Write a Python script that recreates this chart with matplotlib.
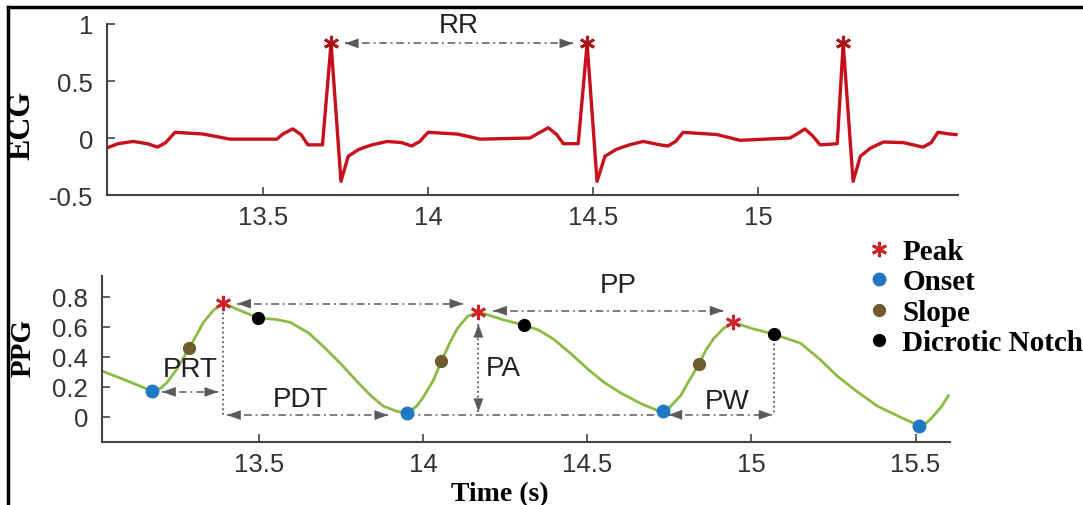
import matplotlib
matplotlib.use("Agg")
import matplotlib.pyplot as plt
from matplotlib.lines import Line2D

# ECG trace (time in s, amplitude)
ecg_t = [13.006, 13.06, 13.106, 13.15, 13.18, 13.205, 13.233, 13.318, 13.40, 13.542, 13.56,
         13.59, 13.615, 13.636, 13.68, 13.706, 13.736, 13.758, 13.79, 13.83, 13.876, 13.92, 13.95, 13.975, 14.0,
         14.088, 14.158, 14.309, 14.33, 14.364, 14.39, 14.41, 14.455, 14.482, 14.512, 14.536,
         14.57, 14.61, 14.652, 14.703, 14.727, 14.75, 14.773, 14.876, 14.945, 15.097, 15.118, 15.142, 15.165, 15.188,
         15.24, 15.258, 15.288, 15.31, 15.34, 15.38, 15.44, 15.5, 15.525, 15.545, 15.58, 15.60]
ecg_v = [-0.11, -0.05, -0.03, -0.05, -0.08, -0.04, 0.05, 0.035, -0.01, -0.01, 0.035,
         0.08, 0.03, -0.06, -0.06, 0.83, -0.38, -0.16, -0.1, -0.06, -0.03, -0.04, -0.07, -0.03, 0.05,
         0.035, -0.01, 0.0, 0.035, 0.09, 0.03, -0.05, -0.05, 0.83, -0.38, -0.16,
         -0.1, -0.06, -0.03, -0.06, -0.07, -0.03, 0.05, 0.03, -0.02, 0.0, 0.035, 0.08, 0.02, -0.06,
         -0.05, 0.83, -0.38, -0.16, -0.09, -0.035, -0.04, -0.08, -0.04, 0.05, 0.035, 0.03]
ecg_peak_t = [13.706, 14.482, 15.258]
ecg_peak_v = [0.83, 0.83, 0.83]

# PPG trace
ppg_t = [13.021, 13.085, 13.13, 13.174, 13.20, 13.22, 13.25, 13.287, 13.31, 13.33,
         13.36, 13.39, 13.43, 13.497, 13.55, 13.595, 13.65, 13.695, 13.75, 13.80,
         13.84, 13.878, 13.92, 13.951, 13.98, 14.0, 14.03, 14.055, 14.08, 14.104,
         14.135, 14.168, 14.24, 14.308, 14.35, 14.396, 14.45, 14.5, 14.55, 14.60,
         14.66, 14.72, 14.75, 14.784, 14.81, 14.84, 14.86, 14.884, 14.915, 14.945,
         15.00, 15.07, 15.15, 15.21, 15.262, 15.32, 15.384, 15.45, 15.51, 15.535,
         15.555, 15.58, 15.60]
ppg_v = [0.305, 0.25, 0.21, 0.17, 0.19, 0.23, 0.32, 0.46, 0.55, 0.63,
         0.71, 0.76, 0.72, 0.66, 0.65, 0.63, 0.56, 0.47, 0.35, 0.23,
         0.14, 0.07, 0.035, 0.025, 0.07, 0.13, 0.24, 0.37, 0.49, 0.59,
         0.67, 0.70, 0.65, 0.61, 0.58, 0.52, 0.42, 0.32, 0.23, 0.16,
         0.09, 0.035, 0.06, 0.14, 0.24, 0.35, 0.44, 0.52, 0.59, 0.63,
         0.59, 0.55, 0.49, 0.38, 0.27, 0.17, 0.07, 0.0, -0.06, -0.04,
         0.005, 0.07, 0.14]

peak_t = [13.39, 14.168, 14.945]
peak_v = [0.76, 0.70, 0.63]
onset_t = [13.174, 13.951, 14.73, 15.51]
onset_v = [0.17, 0.025, 0.035, -0.06]
slope_t = [13.287, 14.055, 14.84]
slope_v = [0.46, 0.37, 0.35]
notch_t = [13.497, 14.308, 15.07]
notch_v = [0.66, 0.61, 0.55]

ecg_xticks = [13.5, 14, 14.5, 15]
ecg_yticks = [-0.5, 0, 0.5, 1]
ppg_xticks = [13.5, 14, 14.5, 15, 15.5]
ppg_yticks = [0, 0.2, 0.4, 0.6, 0.8]

gray = "#5a5a5a"
dashdot = (0, (5, 2.5, 1.2, 2.5))
star = (6, 2, 0)
tick_font = dict(family="Liberation Sans", size=18.5)
ann_font = dict(family="Liberation Sans", size=20, color="#222222")
lab_font = dict(family="Liberation Serif", weight="bold")

fig = plt.figure(figsize=(10.83, 5.06), dpi=100)
ax1 = fig.add_axes([0.0988, 0.6126, 0.7858, 0.338])
ax2 = fig.add_axes([0.0942, 0.1245, 0.783, 0.328])


def style(ax, xt, yt):
    for s in ["top", "right"]:
        ax.spines[s].set_visible(False)
    for s in ["left", "bottom"]:
        ax.spines[s].set_color("#444444")
        ax.spines[s].set_linewidth(1.5)
    ax.set_xticks(xt)
    ax.set_xticklabels([("%g" % v) for v in xt], fontdict=tick_font, color="#333333")
    ax.set_yticks(yt)
    ax.set_yticklabels([("%g" % v) for v in yt], fontdict=tick_font, color="#333333")
    ax.tick_params(direction="in", length=6, width=1.2, color="#444444")
    ax.tick_params(axis="x", pad=7)
    ax.tick_params(axis="y", pad=10)


def head(ax, x, y, dx, dy):
    # a filled arrow head whose tip sits at (x, y); dx, dy point back along the shaft
    ax.annotate("", xy=(x, y), xytext=(dx, dy), textcoords="offset points",
                arrowprops=dict(arrowstyle="-|>,head_length=0.9,head_width=0.32",
                                color=gray, lw=0, mutation_scale=11,
                                shrinkA=0, shrinkB=0))


def harrow(ax, x0, x1, y, ls=dashdot, heads=True):
    ax.plot([x0, x1], [y, y], ls=ls, color=gray, lw=1.1)
    if heads:
        head(ax, x0, y, 10, 0)
        head(ax, x1, y, -10, 0)


# ECG
ax1.plot(ecg_t, ecg_v, color="#c8101c", lw=2.4, solid_joinstyle="round")
ax1.plot(ecg_peak_t, ecg_peak_v, ls="none", marker=star, ms=11, mew=2, color="#b01018")
harrow(ax1, ecg_peak_t[0] + 0.042, ecg_peak_t[1] - 0.042, ecg_peak_v[0])
ax1.text((ecg_peak_t[0] + ecg_peak_t[1]) / 2, 0.99, "RR", ha="center", va="center", **ann_font)
ax1.set_xlim(13.027, 15.606)
ax1.set_ylim(-0.5, 1.0)
style(ax1, ecg_xticks, ecg_yticks)

# PPG
ax2.plot(ppg_t, ppg_v, color="#8cbb45", lw=2, solid_joinstyle="round")
harrow(ax2, peak_t[0] + 0.043, peak_t[1] - 0.046, peak_v[0] - 0.005)
harrow(ax2, peak_t[1] + 0.045, peak_t[2] - 0.03, peak_v[1] + 0.008)
harrow(ax2, onset_t[0] + 0.03, peak_t[0] - 0.015, onset_v[0] - 0.005)
ax2.plot([peak_t[0], peak_t[0]], [peak_v[0], 0.0], ls=":", color=gray, lw=1.3)
harrow(ax2, peak_t[0] + 0.012, onset_t[1] - 0.058, 0.01)
harrow(ax2, onset_t[1], onset_t[2], 0.01, heads=False)
# PA vertical arrow
ax2.plot([peak_t[1], peak_t[1]], [0.62, 0.03], ls=":", color=gray, lw=1.3)
head(ax2, peak_t[1], 0.62, 0, -10)
head(ax2, peak_t[1], 0.03, 0, 10)
harrow(ax2, onset_t[2] + 0.017, notch_t[2] - 0.006, 0.012)
ax2.plot([notch_t[2], notch_t[2]], [notch_v[2], 0.012], ls=":", color=gray, lw=1.3)

ax2.plot(peak_t, peak_v, ls="none", marker=star, ms=11, mew=2, color="#d0202a", label="Peak")
ax2.plot(onset_t, onset_v, ls="none", marker="o", ms=9, color="#1f78c1", label="Onset")
ax2.plot(slope_t, slope_v, ls="none", marker="o", ms=8.5, color="#6e5c2c", label="Slope")
ax2.plot(notch_t, notch_v, ls="none", marker="o", ms=8.5, color="black", label="Dicrotic Notch")

ax2.text(13.29, 0.32, "PRT", ha="center", va="center", **ann_font)
ax2.text(13.625, 0.12, "PDT", ha="center", va="center", **ann_font)
ax2.text(14.244, 0.325, "PA", ha="center", va="center", **ann_font)
ax2.text(14.595, 0.88, "PP", ha="center", va="center", **ann_font)
ax2.text(14.927, 0.105, "PW", ha="center", va="center", **ann_font)

ax2.set_xlim(13.021, 15.605)
ax2.set_ylim(-0.17, 0.94)
style(ax2, ppg_xticks, ppg_yticks)

fig.legend(*ax2.get_legend_handles_labels(), loc="upper left",
           bbox_to_anchor=(0.801, 1 - 239 / 506), frameon=False,
           handlelength=0.8, handletextpad=0.4, labelspacing=0.12,
           borderpad=0, borderaxespad=0,
           prop=dict(family="Liberation Serif", weight="bold", size=21))

fig.text(22 / 1083, 1 - 125 / 506, "ECG", rotation=90, ha="center", va="center", size=23, **lab_font)
fig.text(23 / 1083, 1 - 348 / 506, "PPG", rotation=90, ha="center", va="center", size=21, **lab_font)
fig.text(500 / 1083, 1 - 495 / 506, "Time (s)", ha="center", va="center", size=20, **lab_font)

# frame lines along the top and left edges
fig.add_artist(Line2D([8 / 1083, 1], [1 - 8 / 506, 1 - 8 / 506], transform=fig.transFigure, color="black", lw=2.5))
fig.add_artist(Line2D([8 / 1083, 8 / 1083], [0, 1 - 8 / 506], transform=fig.transFigure, color="black", lw=2.5))

fig.savefig("out.png", dpi=100)
